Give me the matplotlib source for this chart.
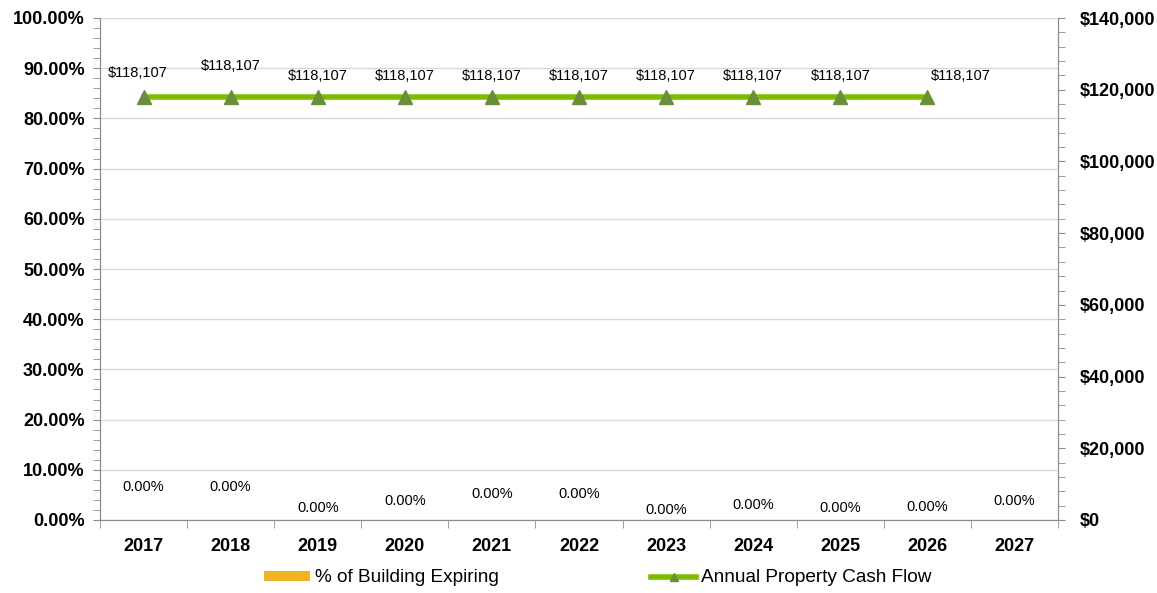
import matplotlib
matplotlib.use("Agg")
import matplotlib.pyplot as plt
from matplotlib.ticker import MultipleLocator, FuncFormatter
import numpy as np

years = ["2017", "2018", "2019", "2020", "2021", "2022", "2023", "2024", "2025", "2026", "2027"]
pct_expiring = [0.0, 0.0, 0.0, 0.0, 0.0, 0.0, 0.0, 0.0, 0.0, 0.0, 0.0]
cash_years = ["2017", "2018", "2019", "2020", "2021", "2022", "2023", "2024", "2025", "2026"]
cash_flow = [118107, 118107, 118107, 118107, 118107, 118107, 118107, 118107, 118107, 118107]

# label placement offsets (pixels) mimicking the reference
pct_label_dy = [33, 33, 12, 19, 26, 26, 10, 15, 12, 13, 19]
cash_label_dx = [-6, 0, 0, 0, 0, 0, 0, 0, 0, 33]
cash_label_dy = [24, 31, 21, 21, 21, 21, 21, 21, 21, 21]

plt.rcParams['font.family'] = ['Liberation Sans', 'DejaVu Sans']

W, H = 1157, 593
fig = plt.figure(figsize=(W / 100, H / 100), dpi=100)
ax = fig.add_axes([100 / W, 1 - 520 / H, (1058 - 100) / W, (520 - 18) / H])
ax2 = ax.twinx()

x = np.arange(len(years))
bar_color = "#F0B323"
line_color = "#7FBA00"
marker_color = "#6B8E3A"
spine_color = "#8C8C8C"

ax.bar(x, pct_expiring, width=0.6, color=bar_color, label="% of Building Expiring", zorder=2)
ax.set_xlim(-0.5, len(years) - 0.5)
ax.set_ylim(0, 100)
ax.yaxis.set_major_locator(MultipleLocator(10))
ax.yaxis.set_minor_locator(MultipleLocator(2))
ax.yaxis.set_major_formatter(FuncFormatter(lambda v, p: f"{v:.2f}%"))
ax.grid(axis='y', color="#D9D9D9", linewidth=1, zorder=0)
ax.set_axisbelow(True)

ax.set_xticks(x)
ax.set_xticklabels(years)
ax.set_xticks(np.arange(len(years) + 1) - 0.5, minor=True)
ax.tick_params(axis='x', which='major', length=0, pad=13)
ax.tick_params(axis='x', which='minor', length=6, color=spine_color, direction='out')
ax.tick_params(axis='y', which='major', length=5, color=spine_color, pad=6)
ax.tick_params(axis='y', which='minor', length=5, color=spine_color)

for s in ['top']:
    ax.spines[s].set_visible(False)
    ax2.spines[s].set_visible(False)
for s in ['left', 'bottom', 'right']:
    ax.spines[s].set_color(spine_color)
    ax2.spines[s].set_color(spine_color)

cx = [years.index(y) for y in cash_years]
ax2.plot(cx, cash_flow, color=line_color, linewidth=4, marker='^', markersize=10,
         markerfacecolor=marker_color, markeredgecolor=marker_color, zorder=3,
         label="Annual Property Cash Flow")
ax2.set_ylim(0, 140000)
ax2.yaxis.set_major_locator(MultipleLocator(20000))
ax2.yaxis.set_minor_locator(MultipleLocator(4000))
ax2.yaxis.set_major_formatter(FuncFormatter(lambda v, p: f"${v:,.0f}"))
ax2.tick_params(axis='y', which='major', length=5, color=spine_color, pad=10.5)
ax2.tick_params(axis='y', which='minor', length=5, color=spine_color)

for lab in ax.get_xticklabels() + ax.get_yticklabels() + ax2.get_yticklabels():
    lab.set_fontweight('bold')
    lab.set_fontsize(13)

for i, v in enumerate(pct_expiring):
    ax.annotate(f"{v:.2f}%", (x[i], v), xytext=(0, pct_label_dy[i] * 0.72),
                textcoords='offset points', ha='center', va='center', fontsize=10.5)
for j, v in enumerate(cash_flow):
    ax2.annotate(f"${v:,.0f}", (cx[j], v),
                 xytext=(cash_label_dx[j] * 0.72, cash_label_dy[j] * 0.72),
                 textcoords='offset points', ha='center', va='center', fontsize=10.5)

h1, l1 = ax.get_legend_handles_labels()
h2, l2 = ax2.get_legend_handles_labels()
fig.legend(h1 + h2, l1 + l2, loc='center', bbox_to_anchor=(598 / W, 1 - 578 / H),
           ncol=2, frameon=False, fontsize=13.7, handlelength=2.4, handletextpad=0.25,
           columnspacing=8.0, handleheight=0.45, markerscale=0.6)

fig.savefig("out.png", dpi=100)
